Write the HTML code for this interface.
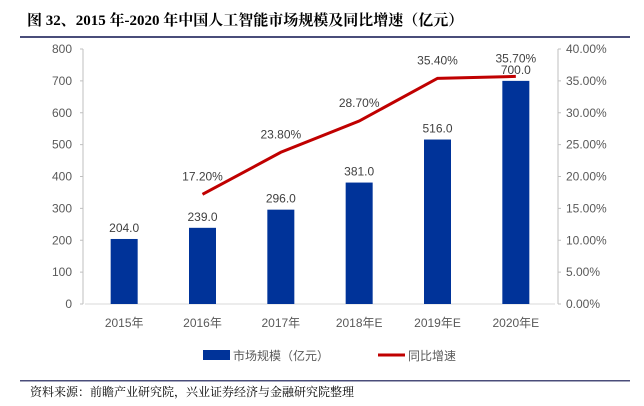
<!DOCTYPE html>
<html><head><meta charset="utf-8">
<style>
body{margin:0;background:#fff;width:644px;height:401px;overflow:hidden;font-family:"Liberation Sans","Noto Sans CJK SC",sans-serif;}
svg text{font-family:"Liberation Sans","Noto Sans CJK SC",sans-serif;}
</style></head>
<body>
<svg width="644" height="401" viewBox="0 0 644 401">
<text x="27" y="25" font-size="15" font-weight="bold" fill="#000" style="font-family:'Liberation Serif','Noto Serif CJK SC',serif">图 32、2015 年-2020 年中国人工智能市场规模及同比增速（亿元）</text>
<rect x="20" y="36" width="610" height="2" fill="#4a4d7a"/>
<g id="axes"></g>
<g id="bars"></g>
<g id="line"></g>
<g>
<rect x="203" y="350" width="27" height="10" fill="#003399"/>
<text x="233" y="360" font-size="12" fill="#595959">市场规模（亿元）</text>
<line x1="378" y1="355" x2="405" y2="355" stroke="#c00000" stroke-width="3"/>
<text x="408" y="360" font-size="12" fill="#595959">同比增速</text>
</g>
<rect x="20" y="380" width="610" height="1.5" fill="#4a4d7a"/>
<text x="30" y="396" font-size="12" fill="#000" style="font-family:'Liberation Serif','Noto Serif CJK SC',serif">资料来源：前瞻产业研究院，兴业证券经济与金融研究院整理</text>
</svg>
<script>
const categories=["2015年","2016年","2017年","2018年E","2019年E","2020年E"];
const marketSize=[204.0,239.0,296.0,381.0,516.0,700.0];
const growth=[null,17.20,23.80,28.70,35.40,35.70];
const leftTicks=[0,100,200,300,400,500,600,700,800];
const rightTicks=[0,5,10,15,20,25,30,35,40];
const NS="http://www.w3.org/2000/svg";
const x0=85,x1=555,yB=304,yT=49;
const xc=i=>x0+(x1-x0)/categories.length*(i+0.5);
const yL=v=>yB-(v/800)*(yB-yT);
const yR=v=>yB-(v/40)*(yB-yT);
function mk(t,a,p){const e=document.createElementNS(NS,t);for(const k in a)e.setAttribute(k,a[k]);p.appendChild(e);return e;}
const ax=document.getElementById('axes');
let e=mk('line',{x1:x0,y1:yB,x2:x1,y2:yB,stroke:'#d9d9d9'},ax);


e=mk('line',{x1:x0-2,y1:yT,x2:x0-2,y2:yB,stroke:'#bfbfbf'},ax);


e=mk('line',{x1:x1+3,y1:yT,x2:x1+3,y2:yB,stroke:'#bfbfbf'},ax);


leftTicks.forEach(v=>{
 mk('line',{x1:x0-5,y1:yL(v),x2:x0-2,y2:yL(v),stroke:'#bfbfbf'},ax);
 const t=mk('text',{x:x0-13,y:yL(v)+4,'font-size':12,fill:'#595959','text-anchor':'end'},ax);t.textContent=v;
 
 
});
rightTicks.forEach(v=>{
 mk('line',{x1:x1+3,y1:yR(v),x2:x1+6,y2:yR(v),stroke:'#bfbfbf'},ax);
 const t=mk('text',{x:x1+11,y:yR(v)+4,'font-size':12,fill:'#595959'},ax);t.textContent=v.toFixed(2)+'%';
 
 
});
categories.forEach((c,i)=>{
 const t=mk('text',{x:xc(i),y:327,'font-size':12,fill:'#595959','text-anchor':'middle'},ax);t.textContent=c;
 
 
});
const bg=document.getElementById('bars');
marketSize.forEach((v,i)=>{
 const r=mk('rect',{x:xc(i)-13.5,y:yL(v),width:27,height:yB-yL(v),fill:'#003399'},bg);
 
 
 const t=mk('text',{x:xc(i),y:yL(v)-7,'font-size':12,fill:'#404040','text-anchor':'middle'},bg);t.textContent=v.toFixed(1);
 
 
});
const lg=document.getElementById('line');
const pts=[];growth.forEach((v,i)=>{if(v!==null)pts.push([xc(i),yR(v),v]);});
const pl=mk('polyline',{points:pts.map(p=>p[0]+','+p[1]).join(' '),fill:'none',stroke:'#c00000','stroke-width':3},lg);


pts.forEach(p=>{
 const t=mk('text',{x:p[0],y:p[1]-14,'font-size':12,fill:'#404040','text-anchor':'middle'},lg);t.textContent=p[2].toFixed(2)+'%';
 
 
});
</script>
</body></html>
